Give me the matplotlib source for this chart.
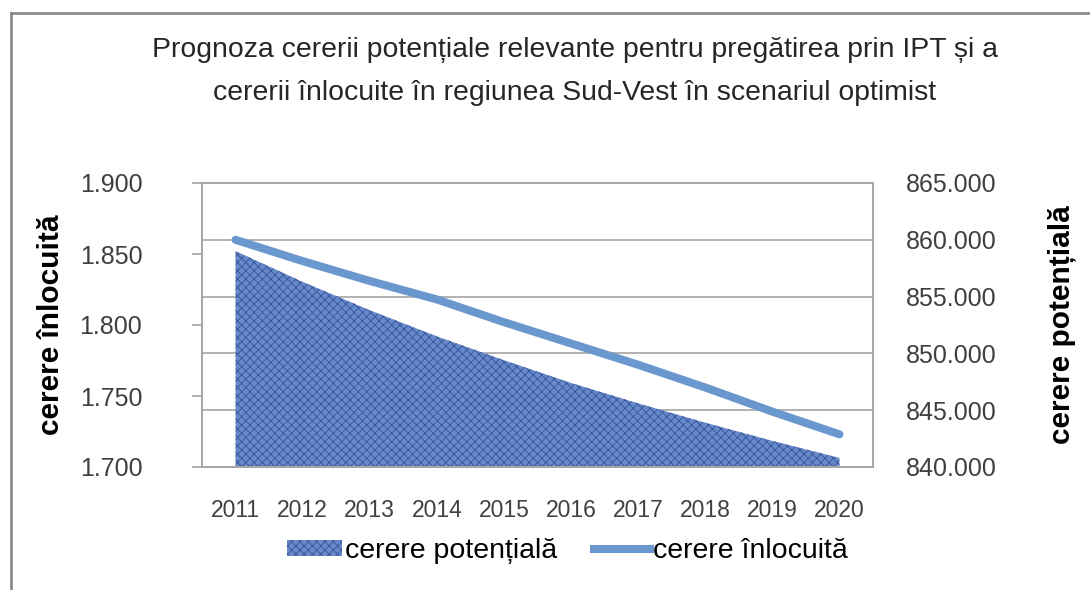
import matplotlib
matplotlib.use("Agg")
import matplotlib.pyplot as plt
from matplotlib.lines import Line2D
from matplotlib.patches import Patch

years = ["2011", "2012", "2013", "2014", "2015", "2016", "2017", "2018", "2019", "2020"]
cerere_inlocuita = [1.860, 1.845, 1.831, 1.818, 1.802, 1.787, 1.772, 1.756, 1.739, 1.723]
cerere_potentiala = [859.0, 856.3, 853.8, 851.5, 849.4, 847.4, 845.6, 843.9, 842.3, 840.8]
left_ticks = [1.700, 1.750, 1.800, 1.850, 1.900]
right_ticks = [840.0, 845.0, 850.0, 855.0, 860.0, 865.0]

FONT = "Liberation Sans"
plt.rcParams['hatch.linewidth'] = 0.6
AREA_FACE = "#6889c9"
AREA_EDGE = "#33539a"
LINE_COLOR = "#6a97cd"

fig = plt.figure(figsize=(10.9, 5.9), dpi=100)
ax = fig.add_axes([202/1090, 1-467/590, (873-202)/1090, (467-183)/590])
ax2 = ax.twinx()
ax.set_zorder(ax2.get_zorder() + 1)
ax.patch.set_visible(False)

x = list(range(len(years)))
ax2.fill_between(x, 0, cerere_potentiala, facecolor=AREA_FACE, edgecolor=AREA_EDGE,
                 hatch="xxxx", linewidth=0, zorder=2)
ax.plot(x, cerere_inlocuita, color=LINE_COLOR, linewidth=5.8, solid_capstyle="round", zorder=3)

ax.set_xlim(-0.5, len(years) - 0.5)
ax.set_ylim(1.700, 1.900)
ax2.set_ylim(840.0, 865.0)

ax.set_yticks(left_ticks)
ax.set_yticklabels([f"{v:.3f}" for v in left_ticks])
ax2.set_yticks(right_ticks)
ax2.set_yticklabels([f"{v:.3f}" for v in right_ticks])
ax.set_xticks(x)
ax.set_xticklabels(years)

ax2.grid(axis="y", color="#a6a6a6", linewidth=1.2)
ax2.set_axisbelow(True)

for a in (ax, ax2):
    for s in a.spines.values():
        s.set_color("#a6a6a6")
        s.set_linewidth(1.2)

ax.tick_params(axis="y", direction="out", length=7, width=1.2, color="#a6a6a6",
               labelsize=18, labelcolor="#404040", pad=36)
ax2.tick_params(axis="y", length=0, labelsize=18, labelcolor="#404040", pad=24)
ax.tick_params(axis="x", length=0, labelsize=16.5, labelcolor="#404040", pad=23)
ax2.tick_params(axis="x", length=0)
for lab in ax.get_yticklabels() + ax2.get_yticklabels() + ax.get_xticklabels():
    lab.set_family(FONT)

fig.text(51/1090, 1-325/590, "cerere înlocuită", rotation=90, ha="center", va="center",
         fontsize=21.5, fontweight="bold", family=FONT, color="#000000")
fig.text(1062/1090, 1-325/590, "cerere potențială", rotation=90, ha="center", va="center",
         fontsize=21.5, fontweight="bold", family=FONT, color="#000000")

fig.text(575/1090, 1-50/590, "Prognoza cererii potențiale relevante pentru pregătirea prin IPT și a",
         ha="center", va="center", fontsize=20.4, family=FONT, color="#262626")
fig.text(575/1090, 1-93/590, "cererii înlocuite în regiunea Sud-Vest în scenariul optimist",
         ha="center", va="center", fontsize=20.4, family=FONT, color="#262626")

handles = [Patch(facecolor=AREA_FACE, edgecolor=AREA_EDGE, hatch="xxxx", linewidth=0),
           Line2D([0], [0], color=LINE_COLOR, linewidth=5.8)]
leg = fig.legend(handles, ["cerere potențială", "cerere înlocuită"], loc="center",
                 bbox_to_anchor=(567/1090, 1-551/590), ncol=2, frameon=False,
                 prop={"family": FONT, "size": 20.5}, handlelength=1.95,
                 handleheight=0.45, handletextpad=0.1, columnspacing=1.3)

fig.add_artist(Line2D([11/1090, 1.0], [1-13/590, 1-13/590], color="#8c8c8c", linewidth=2.0))
fig.add_artist(Line2D([11/1090, 11/1090], [0, 1-13/590], color="#8c8c8c", linewidth=2.0))

fig.savefig("out.png", dpi=100)
